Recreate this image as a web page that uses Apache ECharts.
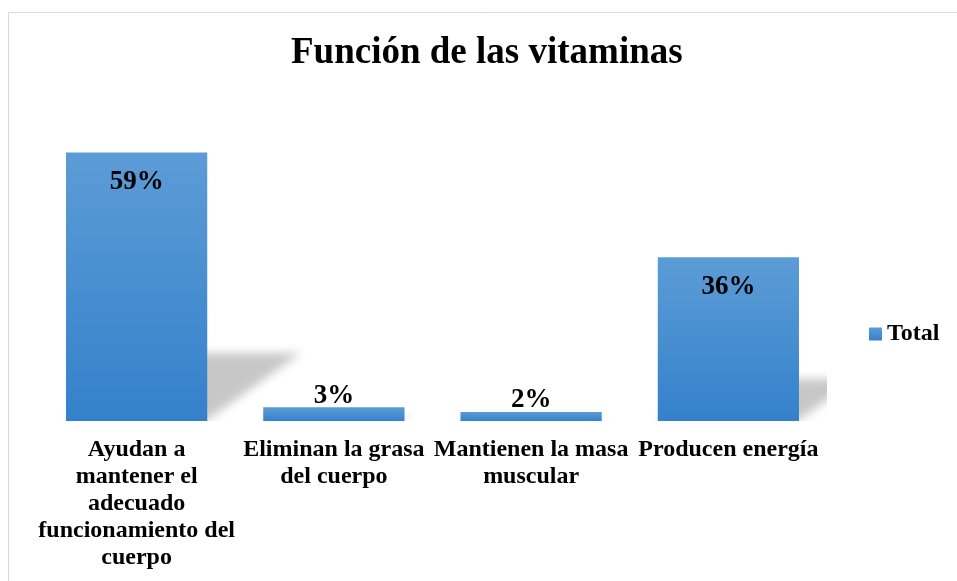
<!DOCTYPE html>
<html>
<head>
<meta charset="utf-8">
<title>Función de las vitaminas</title>
<script src="https://cdn.jsdelivr.net/npm/echarts@6/dist/echarts.min.js"></script>
<style>
html, body { margin: 0; padding: 0; background: #fff; }
#chart { width: 957px; height: 581px; }
</style>
</head>
<body>
<div id="chart"></div>
<script>
// data
var categories = [
    'Ayudan a\nmantener el\nadecuado\nfuncionamiento del\ncuerpo',
    'Eliminan la grasa\ndel cuerpo',
    'Mantienen la masa\nmuscular',
    'Producen energía'
];
var totals = [59, 3, 2, 36];
var seriesName = 'Total';

var FONT = '"Liberation Serif", "Times New Roman", serif';
var GAP = 0.284;
var SHIFT = 3000; // the shadow shape is drawn far away, only its blurred shadow lands here

var barColor = {
    type: 'linear', x: 0, y: 0, x2: 0, y2: 1,
    colorStops: [
        { offset: 0, color: '#5c9cd6' },
        { offset: 1, color: '#3481cb' }
    ]
};

// Excel-like perspective shadow behind every bar
function renderShadow(params, api) {
    var i = api.value(0);
    var v = api.value(1);
    var base = api.coord([i, 0]);
    var top = api.coord([i, v]);
    var bw = api.size([1, 0])[0] * (1 - GAP);
    var h = base[1] - top[1];
    var xl = base[0] - bw / 2;
    var xr = base[0] + bw / 2;
    var dy = h * 0.25;
    var dx = h * 0.35;
    var y0 = base[1] - 1;
    return {
        type: 'polygon',
        shape: {
            points: [[xl + SHIFT, y0], [xr + SHIFT, y0], [xr + dx + SHIFT, y0 - dy], [xl + dx + SHIFT, y0 - dy]]
        },
        style: {
            fill: '#000',
            shadowBlur: 10,
            shadowOffsetX: -SHIFT,
            shadowColor: 'rgba(0,0,0,0.22)'
        }
    };
}

var chart = echarts.init(document.getElementById('chart'));

var option = {
    backgroundColor: '#fff',
    animation: false,
    title: {
        text: 'Función de las vitaminas',
        left: 291,
        top: 35,
        padding: 0,
        textStyle: {
            fontFamily: FONT,
            fontWeight: 'bold',
            fontSize: 37,
            color: '#000'
        }
    },
    legend: {
        data: [seriesName],
        orient: 'vertical',
        left: 869,
        top: 322,
        padding: 0,
        itemWidth: 13,
        itemHeight: 13,
        icon: 'rect',
        textStyle: {
            fontFamily: FONT,
            fontWeight: 'bold',
            fontSize: 24,
            lineHeight: 24,
            color: '#000'
        }
    },
    graphic: [{
        type: 'rect',
        silent: true,
        z: -1,
        shape: { x: 8.5, y: 12.5, width: 1200, height: 1000 },
        style: { fill: 'none', stroke: '#d9d9d9', lineWidth: 1 }
    }],
    grid: {
        left: 38,
        width: 789,
        top: 148,
        bottom: 160,
        containLabel: false
    },
    xAxis: {
        type: 'category',
        data: categories,
        axisLine: { show: false },
        axisTick: { show: false },
        axisLabel: {
            interval: 0,
            margin: 15,
            fontFamily: FONT,
            fontWeight: 'bold',
            fontSize: 24,
            lineHeight: 27,
            color: '#000',
            align: 'center'
        }
    },
    yAxis: {
        type: 'value',
        min: 0,
        max: 60,
        show: false,
        splitLine: { show: false }
    },
    series: [
        {
            type: 'custom',
            name: 'shadow',
            z: 1,
            clip: true,
            silent: true,
            renderItem: renderShadow,
            data: totals.map(function (v, i) { return [i, v]; })
        },
        {
            type: 'bar',
            name: seriesName,
            z: 2,
            barCategoryGap: (GAP * 100) + '%',
            itemStyle: { color: barColor },
            label: {
                show: true,
                fontFamily: FONT,
                fontWeight: 'bold',
                fontSize: 27,
                lineHeight: 27,
                color: '#000',
                formatter: '{c}%'
            },
            data: totals.map(function (v) {
                // short bars get their label above, tall ones inside the top
                var inside = v > 8;
                return {
                    value: v,
                    label: inside ? { position: 'insideTop', distance: 16 } : { position: 'top', distance: -2 }
                };
            })
        }
    ]
};

chart.setOption(option);
</script>
</body>
</html>
